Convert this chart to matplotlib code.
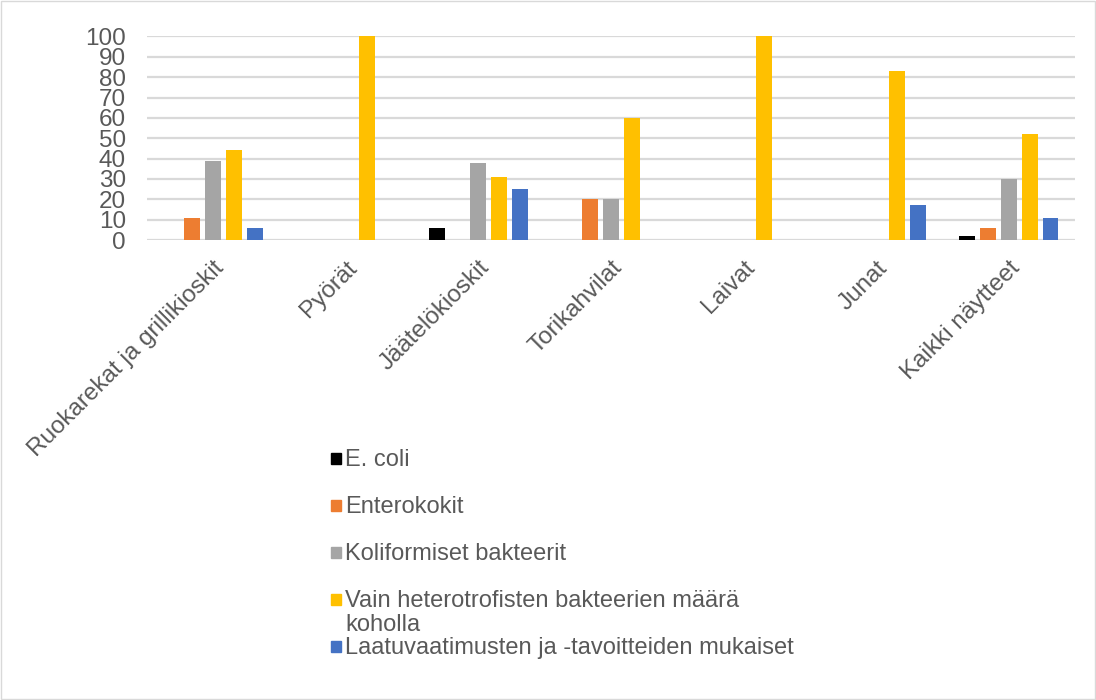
import numpy as np
from matplotlib import pyplot as plt
from matplotlib.patches import Rectangle

# categories and series (percent of samples)
categories = ['Ruokarekat ja grillikioskit', 'Pyörät', 'Jäätelökioskit', 'Torikahvilat',
              'Laivat', 'Junat', 'Kaikki näytteet']
series_names = ['E. coli', 'Enterokokit', 'Koliformiset bakteerit',
                'Vain heterotrofisten bakteerien määrä\nkoholla',
                'Laatuvaatimusten ja -tavoitteiden mukaiset']
ecoli = [0, 0, 6, 0, 0, 0, 2]
entero = [11, 0, 0, 20, 0, 0, 6]
koli = [39, 0, 38, 20, 0, 0, 30]
hetero = [44, 100, 31, 60, 100, 83, 52]
laatu = [6, 0, 25, 0, 0, 17, 11]
colors = ['#000000', '#ED7D31', '#A5A5A5', '#FFC000', '#4472C4']

plt.rcParams['font.family'] = ['Liberation Sans', 'DejaVu Sans']
txt = '#595959'

fig = plt.figure(figsize=(10.96, 7), dpi=100)
ax = fig.add_axes([0.134, 0.657, 0.847, 0.291])

x = np.arange(len(categories))
pitch = 0.157
width = 0.12
data = [ecoli, entero, koli, hetero, laatu]
for i, (vals, name, c) in enumerate(zip(data, series_names, colors)):
    ax.bar(x + (i - 2) * pitch, vals, width, color=c, label=name, zorder=3)

ax.set_xlim(-0.5, len(categories) - 0.5)
ax.set_ylim(0, 100)
ax.set_yticks(range(0, 101, 10))
ax.yaxis.grid(True, color='#D9D9D9', linewidth=1.6, zorder=0)
ax.set_axisbelow(True)
for s in ax.spines.values():
    s.set_visible(False)
ax.tick_params(axis='both', length=0, colors=txt)
ax.tick_params(axis='y', pad=15, labelsize=17.5)
ax.set_xticks(x)
ax.set_xticklabels(categories, rotation=45, ha='right', rotation_mode='anchor', fontsize=17.5)
ax.tick_params(axis='x', pad=12)

# legend drawn by hand so the two-line entry keeps Excel's tight spacing
lx, ly, step = 0.302, 1 - 460 / 700, 47 / 700
for i, (name, c) in enumerate(zip(series_names, colors)):
    y = ly - i * step
    fig.add_artist(Rectangle((lx, y - 0.005), 0.0095, 0.0149, transform=fig.transFigure,
                             color=c))
    fig.text(lx + 0.013, y + 0.016, name, fontsize=17, color=txt, va='top', ha='left',
             linespacing=1.15)

fig.add_artist(Rectangle((0.001, 0.001), 0.998, 0.998, transform=fig.transFigure,
                         fill=False, edgecolor='#D9D9D9', linewidth=1))

plt.savefig('out.png', dpi=100)
